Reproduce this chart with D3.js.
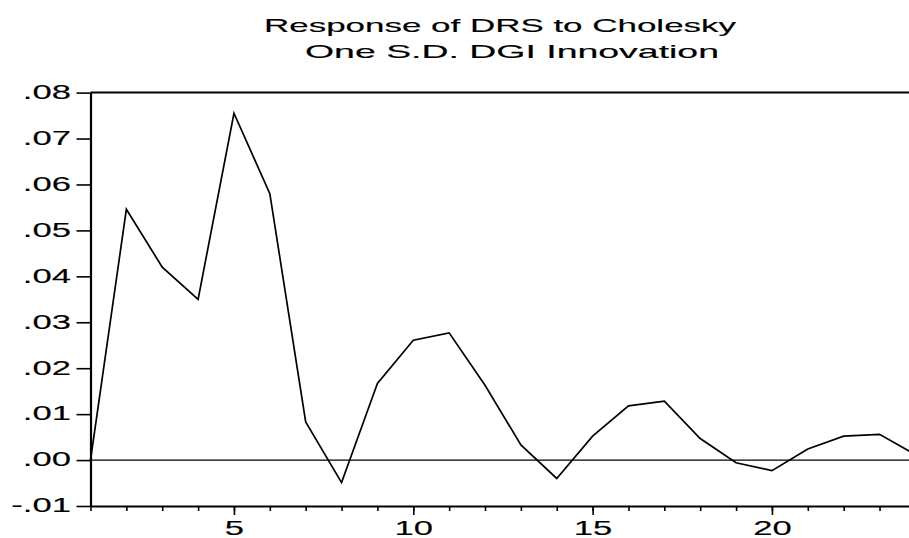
<!DOCTYPE html>
<html>
<head>
<meta charset="utf-8">
<script src="https://cdn.jsdelivr.net/npm/d3@7"></script>
<style>
  html, body { margin: 0; padding: 0; background: #fff; }
  svg { display: block; }
  text { font-family: "Liberation Sans", Arial, sans-serif; fill: #000; }
</style>
</head>
<body>
<svg id="chart" width="909" height="538"></svg>
<script>
// ---- data ----
const titleLines = ["Response of DRS to Cholesky", "One S.D. DGI Innovation"];
const periods = [1,2,3,4,5,6,7,8,9,10,11,12,13,14,15,16,17,18,19,20,21,22,23,24];
const response = [0.0000, 0.0546, 0.0420, 0.0350, 0.0755, 0.0580, 0.0083, -0.0049,
                  0.0167, 0.0261, 0.0277, 0.0163, 0.0033, -0.0040, 0.0052, 0.0118,
                  0.0128, 0.0047, -0.0006, -0.0023, 0.0024, 0.0052, 0.0056, 0.0012];
const yTicks = [-0.01, 0.00, 0.01, 0.02, 0.03, 0.04, 0.05, 0.06, 0.07, 0.08];
const yTickLabels = ["-.01", ".00", ".01", ".02", ".03", ".04", ".05", ".06", ".07", ".08"];
const xLabelTicks = [5, 10, 15, 20];
const xTickLabels = ["5", "10", "15", "20"];

// ---- layout ----
const svg = d3.select("#chart");
const plotLeft = 90.5, plotRight = 915.4, plotTop = 92.6, plotBottom = 506;
const x = d3.scaleLinear().domain([1, 24]).range([plotLeft, plotRight]);
const y = d3.scaleLinear().domain([-0.01, 0.08]).range([plotBottom, plotTop]);
const stretch = 1.65;

// title (text is horizontally stretched in the reference)
const titleWidths = [472, 414];
const titleCenters = [500, 512];
titleLines.forEach((t, i) => {
  svg.append("text")
    .attr("x", titleCenters[i] - titleWidths[i] / 2)
    .attr("y", 31.7 + i * 25.8)
    .attr("textLength", titleWidths[i])
    .attr("lengthAdjust", "spacingAndGlyphs")
    .attr("font-size", 18.5)
    .attr("stroke", "#000")
    .attr("stroke-width", 0.15)
    .text(t);
});

// zero line
svg.append("line")
  .attr("x1", plotLeft).attr("x2", 909)
  .attr("y1", y(0)).attr("y2", y(0))
  .attr("stroke", "#000").attr("stroke-width", 1.2);

// top frame
svg.append("line")
  .attr("x1", plotLeft).attr("x2", plotRight)
  .attr("y1", y(0.08)).attr("y2", y(0.08))
  .attr("stroke", "#000").attr("stroke-width", 2);

// y axis
const yAxis = d3.axisLeft(y)
  .tickValues(yTicks)
  .tickSize(14)
  .tickSizeOuter(0)
  .tickFormat((d, i) => yTickLabels[i]);
const gy = svg.append("g").attr("transform", `translate(${plotLeft},0)`).call(yAxis);
gy.select(".domain").attr("stroke", "#000").attr("stroke-width", 2.2);
gy.selectAll(".tick line").attr("stroke", "#000").attr("stroke-width", 1.6);
gy.selectAll(".tick text")
  .attr("x", 0).attr("dy", 0)
  .attr("transform", `translate(-19.5,5.8) scale(${stretch},1)`)
  .attr("font-size", 21)
  .attr("font-family", "Liberation Sans, Arial, sans-serif")
  .attr("fill", "#000")
  .attr("stroke", "#000")
  .attr("stroke-width", 0.15);

// x axis: minor ticks each period, longer ticks at labelled periods
const xAxisMinor = d3.axisBottom(x)
  .tickValues(periods)
  .tickSize(5)
  .tickSizeOuter(0)
  .tickFormat("");
const gx = svg.append("g").attr("transform", `translate(0,${plotBottom})`).call(xAxisMinor);
gx.select(".domain").attr("stroke", "#000").attr("stroke-width", 2.2);
gx.selectAll(".tick line").attr("stroke", "#000").attr("stroke-width", 1.6);

const xAxisMajor = d3.axisBottom(x)
  .tickValues(xLabelTicks)
  .tickSize(9)
  .tickSizeOuter(0)
  .tickFormat((d, i) => xTickLabels[i]);
const gx2 = svg.append("g").attr("transform", `translate(0,${plotBottom})`).call(xAxisMajor);
gx2.select(".domain").remove();
gx2.selectAll(".tick line").attr("stroke", "#000").attr("stroke-width", 1.6);
gx2.selectAll(".tick text")
  .attr("y", 0).attr("dy", 0)
  .attr("transform", `translate(0,29) scale(${stretch},1)`)
  .attr("font-size", 21)
  .attr("font-family", "Liberation Sans, Arial, sans-serif")
  .attr("fill", "#000")
  .attr("stroke", "#000")
  .attr("stroke-width", 0.15);

// response line
const line = d3.line().x((d, i) => x(periods[i])).y(d => y(d));
svg.append("path")
  .datum(response)
  .attr("d", line)
  .attr("fill", "none")
  .attr("stroke", "#000")
  .attr("stroke-width", 1.7)
  .attr("stroke-linejoin", "miter");
</script>
</body>
</html>
